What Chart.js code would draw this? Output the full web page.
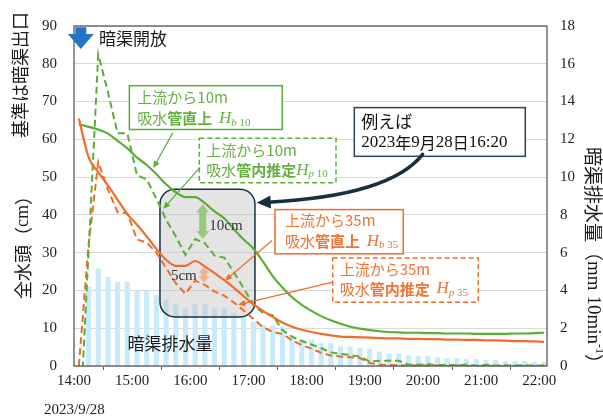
<!DOCTYPE html>
<html>
<head>
<meta charset="utf-8">
<script src="https://cdn.jsdelivr.net/npm/chart.js@4.4.0/dist/chart.umd.min.js"></script>
<style>
  html, body { margin: 0; padding: 0; background: #ffffff; }
  #wrap { width: 603px; height: 418px; }
</style>
</head>
<body>
<div id="wrap"><canvas id="c" width="603" height="418"></canvas></div>
<script>
// 10-minute records on 2023/9/28, in minutes after 14:00
const minutes = [5, 15, 25, 35, 45, 55, 65, 75, 85, 95, 105, 115, 125, 135, 145, 155, 165, 175, 185, 195,
  205, 215, 225, 235, 245, 255, 265, 275, 285, 295, 305, 315, 325, 335, 345, 355, 365, 375, 385, 395,
  405, 415, 425, 435, 445, 455, 465, 475, 485];

// Subsurface drainage discharge (mm per 10 min, right axis)
const drainage = [null, 4.2, 5.15, 4.7, 4.45, 4.45, 3.97, 3.97, 3.74, 3.5, 3.26, 3.03, 3.26, 3.26, 3.03, 3.03, 2.8, 2.6, 2.33, 2.16,
  2.1, 2.07, 1.6, 1.4, 1.38, 1.2, 1.2, 1.02, 1.02, 0.95, 0.9, 0.75, 0.65, 0.65, 0.55, 0.5, 0.5, 0.45, 0.4, 0.4,
  0.35, 0.35, 0.3, 0.3, 0.25, 0.25, 0.25, 0.2, 0.2];

// Total head (cm), 10 m from upstream, directly above the collector pipe (Hb10)
const headAbove10 = [64.0, 63.3, 62.6, 61.5, 59.6, 57.6, 55.2, 53.2, 50.8, 48.1, 46.0, 44.7, 44.7, 43.1, 40.9, 39.1, 36.2, 33.5, 31.1, 27.6,
  23.8, 20.8, 18.2, 16.2, 14.6, 13.2, 12.1, 11.2, 10.4, 9.9, 9.5, 9.2, 9.0, 8.9, 8.8, 8.8, 8.7, 8.7, 8.6, 8.6,
  8.6, 8.5, 8.5, 8.5, 8.5, 8.6, 8.6, 8.7, 8.8];

// Total head (cm), 10 m from upstream, estimated inside the pipe (Hp10)
const headPipe10 = [-21, 30, 82.5, 72.5, 61.6, 61.6, 50.5, 49.4, 44.3, 38.7, 34.3, 29.4, 33.6, 32.5, 29.2, 28.7, 24.8, 20.6, 16.2, 14.0,
  13.4, 9.5, 7.8, 6.6, 5.7, 4.7, 3.6, 3.2, 2.9, 2.5, 1.2, 1.4, 1.4, 1.4, 0.4, 0.3, 0.5, 0.2, 0.4, 0.2,
  0.4, 0.1, 0.3, 0.1, 0.2, 0.1, 0.2, 0.1, 0.1];

// Total head (cm), 35 m from upstream, directly above the collector pipe (Hb35)
const headAbove35 = [65.5, 55.3, 51.3, 47.8, 44.0, 40.2, 37.4, 34.3, 31.0, 28.1, 26.5, 26.5, 27.8, 26.3, 24.6, 22.7, 20.7, 18.5, 16.4, 14.6,
  13.0, 11.5, 10.4, 9.6, 9.0, 8.5, 8.1, 7.8, 7.7, 7.6, 7.5, 7.4, 7.3, 7.3, 7.2, 7.2, 7.1, 7.1, 7.0, 7.0,
  6.9, 6.9, 6.8, 6.8, 6.7, 6.6, 6.6, 6.5, 6.4];

// Total head (cm), 35 m from upstream, estimated inside the pipe (Hp35)
const headPipe35 = [0, 32, 54, 46.7, 40.7, 40.4, 33.5, 32.7, 30.0, 26.0, 21.9, 19.1, 22.6, 21.5, 19.7, 18.6, 16.8, 14.7, 12.5, 10.3,
  9.0, 8.5, 6.8, 5.5, 4.6, 3.5, 2.8, 2.5, 2.3, 2.1, 0.8, 0.4, 0.3, 0.2, 0.1, 0.2, 0.1, 0.1, 0, 0.1,
  0, 0, 0.1, 0, 0, 0, 0, 0, 0];

const timeLabels = ['14:00', '15:00', '16:00', '17:00', '18:00', '19:00', '20:00', '21:00', '22:00'];

const SANS = '"Noto Sans CJK JP", "Noto Sans", sans-serif';
const SERIF = '"Liberation Serif", "Times New Roman", "Noto Sans CJK JP", serif';
const GREEN = '#5aae35';
const ORANGE = '#ef6c2a';
const GREEN_TXT = '#66b043';
const ORANGE_TXT = '#ee7434';
const NAVY = '#15303f';
const TICK_COLOR = '#222222';

const F = (size, style = '') => `${style} ${size}px ${SANS}`.trim();
const FS = (size, style = '') => `${style} ${size}px ${SERIF}`.trim();

const toPoints = values => minutes.map((m, i) => ({ x: m, y: values[i] }));

// ---------- drawing helpers ----------
function drawRuns(ctx, x, y, parts, color) {
  let cx = x;
  ctx.textBaseline = 'middle';
  ctx.textAlign = 'left';
  for (const p of parts) {
    ctx.font = p.font;
    ctx.fillStyle = p.color || color;
    ctx.fillText(p.text, cx, y + (p.dy || 0));
    cx += ctx.measureText(p.text).width;
  }
}

function runsWidth(ctx, parts) {
  let w = 0;
  for (const p of parts) { ctx.font = p.font; w += ctx.measureText(p.text).width; }
  return w;
}

function drawRotated(ctx, cx, cy, angle, parts, color) {
  ctx.save();
  ctx.translate(cx, cy);
  ctx.rotate(angle);
  const w = runsWidth(ctx, parts);
  drawRuns(ctx, -w / 2, 0, parts, color);
  ctx.restore();
}

function pointer(ctx, x1, y1, x2, y2, color) {
  const head = 7, half = 3.2;
  const a = Math.atan2(y2 - y1, x2 - x1);
  const c = Math.cos(a), s = Math.sin(a);
  ctx.save();
  ctx.strokeStyle = color;
  ctx.fillStyle = color;
  ctx.lineWidth = 1.2;
  ctx.setLineDash([]);
  ctx.beginPath();
  ctx.moveTo(x1, y1);
  ctx.lineTo(x2 - c * head * 0.7, y2 - s * head * 0.7);
  ctx.stroke();
  ctx.beginPath();
  ctx.moveTo(x2, y2);
  ctx.lineTo(x2 - head * c + half * s, y2 - head * s - half * c);
  ctx.lineTo(x2 - head * c - half * s, y2 - head * s + half * c);
  ctx.closePath();
  ctx.fill();
  ctx.restore();
}

function doubleArrow(ctx, x, yTop, yBot, shaft, headW, headL, color) {
  ctx.save();
  ctx.fillStyle = color;
  ctx.beginPath();
  ctx.moveTo(x, yTop);
  ctx.lineTo(x + headW / 2, yTop + headL);
  ctx.lineTo(x + shaft / 2, yTop + headL);
  ctx.lineTo(x + shaft / 2, yBot - headL);
  ctx.lineTo(x + headW / 2, yBot - headL);
  ctx.lineTo(x, yBot);
  ctx.lineTo(x - headW / 2, yBot - headL);
  ctx.lineTo(x - shaft / 2, yBot - headL);
  ctx.lineTo(x - shaft / 2, yTop + headL);
  ctx.lineTo(x - headW / 2, yTop + headL);
  ctx.closePath();
  ctx.fill();
  ctx.restore();
}

// ---------- annotation layout (time in minutes, head in cm) ----------
const highlight = { t0: 88.7, t1: 186.7, vTop: 46.8, vBot: 13.0, radius: 15 };

const labelBoxes = [
  {
    t0: 57.1, t1: 214.9, vTop: 74.2, vBot: 62.6, border: GREEN, text: GREEN_TXT, dash: null, padX: 8, rowY: [12, 33],
    rows: [
      [{ text: '上流から10m', font: F(15) }],
      [{ text: '吸水', font: F(15) }, { text: '管直上', font: F(15, 'bold') }, { text: '  ', font: F(15) },
       { text: 'H', font: FS(17, 'italic') }, { text: 'b', font: FS(11, 'italic'), dy: 4 }, { text: ' 10', font: FS(11), dy: 4 }]
    ],
    arrow: { from: [101.8, 61.7], to: [81.8, 52.4] }
  },
  {
    t0: 129.3, t1: 270.3, vTop: 60.3, vBot: 48.5, border: GREEN, text: GREEN_TXT, dash: [5, 3], padX: 7, rowY: [12, 32],
    rows: [
      [{ text: '上流から10m', font: F(15) }],
      [{ text: '吸水', font: F(15) }, { text: '管内推定', font: F(15, 'bold') },
       { text: 'H', font: FS(17, 'italic') }, { text: 'p', font: FS(11, 'italic'), dy: 4 }, { text: ' 10', font: FS(11), dy: 4 }]
    ],
    arrow: { from: [130, 52.6], to: [92.1, 41.6] }
  },
  {
    t0: 207.4, t1: 339.7, vTop: 41.4, vBot: 29.7, border: ORANGE, text: ORANGE_TXT, dash: null, padX: 10, rowY: [11, 32],
    rows: [
      [{ text: '上流から35m', font: F(15) }],
      [{ text: '吸水', font: F(15) }, { text: '管直上', font: F(15, 'bold') }, { text: '  ', font: F(15) },
       { text: 'H', font: FS(17, 'italic') }, { text: 'b', font: FS(11, 'italic'), dy: 4 }, { text: ' 35', font: FS(11), dy: 4 }]
    ],
    arrow: { from: [204.3, 33.2], to: [155.8, 22.6] }
  },
  {
    t0: 266.9, t1: 417.1, vTop: 28.6, vBot: 16.9, border: ORANGE, text: ORANGE_TXT, dash: [5, 3], padX: 7, rowY: [11, 31],
    rows: [
      [{ text: '上流から35m', font: F(15) }],
      [{ text: '吸水', font: F(15) }, { text: '管内推定', font: F(15, 'bold') }, { text: '  ', font: F(15) },
       { text: 'H', font: FS(17, 'italic') }, { text: 'p', font: FS(11, 'italic'), dy: 4 }, { text: ' 35', font: FS(11), dy: 4 }]
    ],
    arrow: { from: [266.9, 22.2], to: [169.5, 16.2] }
  },
  {
    t0: 289.2, t1: 465.6, vTop: 68.4, vBot: 55.5, border: '#2c4656', text: '#111111', dash: null, padX: 7, rowY: [14, 35],
    rows: [
      [{ text: '例えば', font: F(17) }],
      [{ text: '2023', font: FS(17) }, { text: '年', font: F(16) }, { text: '9', font: FS(17) }, { text: '月', font: F(16) },
       { text: '28', font: FS(17) }, { text: '日', font: F(16) }, { text: '16:20', font: FS(17) }]
    ],
    arrow: null
  }
];

const annotate = {
  id: 'annotate',
  afterDatasetDraw(chart, args) {
    // shade the highlighted period over the discharge bars, beneath the head lines
    if (args.index !== 0) return;
    const { ctx } = chart;
    const X = chart.scales.x, Y = chart.scales.y;
    const x0 = X.getPixelForValue(highlight.t0), x1 = X.getPixelForValue(highlight.t1);
    const y0 = Y.getPixelForValue(highlight.vTop), y1 = Y.getPixelForValue(highlight.vBot);
    ctx.save();
    ctx.beginPath();
    ctx.roundRect(x0, y0, x1 - x0, y1 - y0, highlight.radius);
    ctx.fillStyle = 'rgba(190,190,190,0.42)';
    ctx.fill();
    ctx.lineWidth = 1.5;
    ctx.strokeStyle = NAVY;
    ctx.stroke();
    ctx.restore();
  },
  afterDraw(chart) {
    const { ctx, chartArea: area } = chart;
    const X = chart.scales.x, Y = chart.scales.y;
    const px = t => X.getPixelForValue(t);
    const py = v => Y.getPixelForValue(v);

    ctx.save();
    // plot frame
    ctx.strokeStyle = '#595959';
    ctx.lineWidth = 1.3;
    ctx.strokeRect(area.left, area.top, area.right - area.left, area.bottom - area.top);

    // head differences inside the highlighted period
    doubleArrow(ctx, px(132.8), py(42.8), py(33.6), 7, 13, 8, 'rgba(140,196,110,0.85)');
    drawRuns(ctx, px(139.6), py(37.1), [{ text: '10cm', font: FS(15) }], '#333333');
    doubleArrow(ctx, px(134.1), py(26.3), py(22.2), 6, 11, 6, 'rgba(244,170,130,0.9)');
    ctx.font = FS(15);
    const w5 = ctx.measureText('5cm').width;
    drawRuns(ctx, px(126.6) - w5, py(23.9), [{ text: '5cm', font: FS(15) }], '#333333');

    // label boxes with pointers
    for (const b of labelBoxes) {
      const x0 = px(b.t0), x1 = px(b.t1), y0 = py(b.vTop), y1 = py(b.vBot);
      ctx.save();
      ctx.fillStyle = '#ffffff';
      ctx.fillRect(x0, y0, x1 - x0, y1 - y0);
      ctx.strokeStyle = b.border;
      ctx.lineWidth = 1.5;
      ctx.setLineDash(b.dash || []);
      ctx.strokeRect(x0, y0, x1 - x0, y1 - y0);
      ctx.restore();
      b.rows.forEach((row, i) => drawRuns(ctx, x0 + b.padX, y0 + b.rowY[i], row, b.text));
      if (b.arrow) {
        pointer(ctx, px(b.arrow.from[0]), py(b.arrow.from[1]), px(b.arrow.to[0]), py(b.arrow.to[1]), b.border);
      }
    }

    // curved pointer from the example box to the highlighted period
    const sx = px(359.7), sy = py(56.0), cx = px(326), cy = py(45), ex = px(188.5), ey = py(43.2);
    const ang = Math.atan2(ey - cy, ex - cx);
    const hl = 14, hw = 6.5;
    ctx.save();
    ctx.strokeStyle = NAVY;
    ctx.fillStyle = NAVY;
    ctx.lineWidth = 3.5;
    ctx.lineCap = 'round';
    ctx.beginPath();
    ctx.moveTo(sx, sy);
    ctx.quadraticCurveTo(cx, cy, ex - Math.cos(ang) * hl * 0.8, ey - Math.sin(ang) * hl * 0.8);
    ctx.stroke();
    ctx.beginPath();
    ctx.moveTo(ex, ey);
    ctx.lineTo(ex - hl * Math.cos(ang) + hw * Math.sin(ang), ey - hl * Math.sin(ang) - hw * Math.cos(ang));
    ctx.lineTo(ex - hl * Math.cos(ang) - hw * Math.sin(ang), ey - hl * Math.sin(ang) + hw * Math.cos(ang));
    ctx.closePath();
    ctx.fill();
    ctx.restore();

    // drain opening marker
    const ax = px(7), aTop = py(89.7), aNeck = py(87.9), aTip = py(83.9);
    ctx.fillStyle = '#2372c9';
    ctx.beginPath();
    ctx.moveTo(ax - 5.5, aTop);
    ctx.lineTo(ax + 5.5, aTop);
    ctx.lineTo(ax + 5.5, aNeck);
    ctx.lineTo(ax + 13, aNeck);
    ctx.lineTo(ax, aTip);
    ctx.lineTo(ax - 13, aNeck);
    ctx.lineTo(ax - 5.5, aNeck);
    ctx.closePath();
    ctx.fill();
    drawRuns(ctx, px(25.8), py(86.8), [{ text: '暗渠開放', font: F(17) }], '#1a1a1a');

    // discharge label
    ctx.font = F(17);
    const wd = ctx.measureText('暗渠排水量').width;
    drawRuns(ctx, px(99) - wd / 2, py(6.05), [{ text: '暗渠排水量', font: F(17) }], '#1a1a1a');

    // axis titles
    drawRotated(ctx, 20, 75, -Math.PI / 2, [{ text: '基準は暗渠出口', font: F(18) }], '#1a1a1a');
    drawRotated(ctx, 23, 243, -Math.PI / 2, [
      { text: '全水頭', font: F(18) }, { text: '（', font: F(18) }, { text: 'cm', font: FS(18) }, { text: '）', font: F(18) }
    ], '#1a1a1a');
    drawRotated(ctx, 593, 260, Math.PI / 2, [
      { text: '暗渠排水量', font: F(19) }, { text: '（', font: F(19) }, { text: 'mm 10min', font: FS(19) },
      { text: '-1', font: FS(12), dy: -6 }, { text: '）', font: F(19) }
    ], '#1a1a1a');

    // date under the time axis
    drawRuns(ctx, 44, 410, [{ text: '2023/9/28', font: FS(15) }], TICK_COLOR);
    ctx.restore();
  }
};

new Chart(document.getElementById('c'), {
  type: 'bar',
  data: {
    datasets: [
      { type: 'bar', label: '暗渠排水量', data: toPoints(drainage), yAxisID: 'y2',
        backgroundColor: '#c8ebfb', barThickness: 4.5, order: 10 },
      { type: 'line', label: 'Hb10', data: toPoints(headAbove10), yAxisID: 'y', borderColor: GREEN,
        borderWidth: 2.2, pointRadius: 0, cubicInterpolationMode: 'monotone', order: 2 },
      { type: 'line', label: 'Hp10', data: toPoints(headPipe10), yAxisID: 'y', borderColor: GREEN,
        borderWidth: 2, borderDash: [7, 4], pointRadius: 0, tension: 0, order: 3 },
      { type: 'line', label: 'Hb35', data: toPoints(headAbove35), yAxisID: 'y', borderColor: ORANGE,
        borderWidth: 2.2, pointRadius: 0, cubicInterpolationMode: 'monotone', order: 1 },
      { type: 'line', label: 'Hp35', data: toPoints(headPipe35), yAxisID: 'y', borderColor: ORANGE,
        borderWidth: 2, borderDash: [7, 4], pointRadius: 0, tension: 0, order: 4 }
    ]
  },
  options: {
    responsive: false,
    animation: false,
    devicePixelRatio: 1,
    layout: { padding: { top: 24, left: 0, right: 0, bottom: 0 } },
    plugins: { legend: { display: false }, tooltip: { enabled: false } },
    scales: {
      x: {
        type: 'linear', min: 0, max: 488, offset: false,
        grid: { display: true, drawOnChartArea: false, drawTicks: true, tickLength: 4, color: '#595959' },
        border: { display: false },
        afterBuildTicks: s => { s.ticks = timeLabels.map((_, i) => ({ value: i * 60 })); },
        ticks: {
          callback: v => timeLabels[Math.round(v / 60)],
          font: { family: SERIF, size: 15 }, color: TICK_COLOR, padding: 2,
          maxRotation: 0, autoSkip: false
        },
        afterFit: s => { s.height = 52; }
      },
      y: {
        position: 'left', min: 0, max: 90,
        ticks: { stepSize: 10, padding: 17, font: { family: SERIF, size: 15 }, color: TICK_COLOR },
        grid: { color: '#d9d9d9', drawTicks: false },
        border: { display: false },
        afterFit: s => { s.width = 74; }
      },
      y2: {
        position: 'right', min: 0, max: 18,
        ticks: { stepSize: 2, padding: 13, font: { family: SERIF, size: 15 }, color: TICK_COLOR },
        grid: { display: false, drawTicks: false },
        border: { display: false },
        afterFit: s => { s.width = 56; }
      }
    }
  },
  plugins: [annotate]
});
</script>
</body>
</html>
